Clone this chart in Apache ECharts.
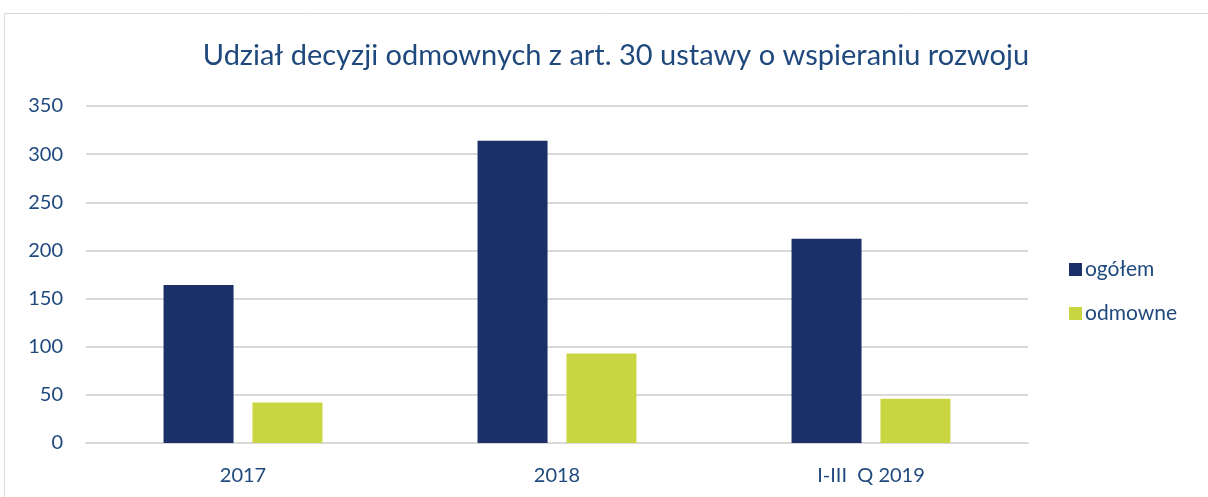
<!DOCTYPE html>
<html><head><meta charset="utf-8">
<script src="https://cdn.jsdelivr.net/npm/echarts@6/dist/echarts.min.js"></script>
<style>html,body{margin:0;padding:0;background:#fff}#c{width:1208px;height:497px}</style>
</head><body><div id="c"></div>
<script>
const categories = ['2017', '2018', 'I-III  Q 2019'];
const ogolem = [164, 314, 212];
const odmowne = [42, 93, 46];
const yTicks = [0, 50, 100, 150, 200, 250, 300, 350];

const chart = echarts.init(document.getElementById('c'));
const txt = '#1F497D';
const font = 'Lato, "Open Sans", sans-serif';
chart.setOption({
  animation: false,
  textStyle: {fontFamily: font},
  graphic: [{type: 'rect', shape: {x: 4.5, y: 13.5, width: 1300, height: 600}, style: {fill: 'none', stroke: '#d9d9d9', lineWidth: 1}}],
  title: {text: 'Udział decyzji odmownych z art. 30 ustawy o wspieraniu rozwoju', left: 611, textAlign: 'center', top: 36,
    textStyle: {fontFamily: font, fontSize: 29, fontWeight: 'normal', color: txt}},
  legend: {orient: 'vertical', left: 1064, top: 254, icon: 'rect', itemWidth: 13, itemHeight: 13, itemGap: 23,
    textStyle: {fontFamily: font, fontSize: 21, color: txt, padding: [0, 0, 0, -2]}, data: ['ogółem', 'odmowne']},
  grid: {left: 86, right: 180, top: 106, bottom: 54},
  xAxis: {type: 'category', data: categories, axisTick: {show: false},
    axisLine: {lineStyle: {color: '#d9d9d9', width: 2}},
    axisLabel: {fontFamily: font, fontSize: 20, color: txt, margin: 23}},
  yAxis: {type: 'value', min: yTicks[0], max: yTicks[yTicks.length - 1], interval: 50,
    axisLabel: {fontFamily: font, fontSize: 20, color: txt, margin: 23},
    splitLine: {lineStyle: {color: '#d9d9d9', width: 2}}},
  series: [
    {name: 'ogółem', type: 'bar', data: ogolem, itemStyle: {color: '#1B3068'}, barWidth: 70, barGap: '27%', barCategoryGap: '49%'},
    {name: 'odmowne', type: 'bar', data: odmowne, itemStyle: {color: '#C9D642'}, barWidth: 70}
  ]
});
</script></body></html>
